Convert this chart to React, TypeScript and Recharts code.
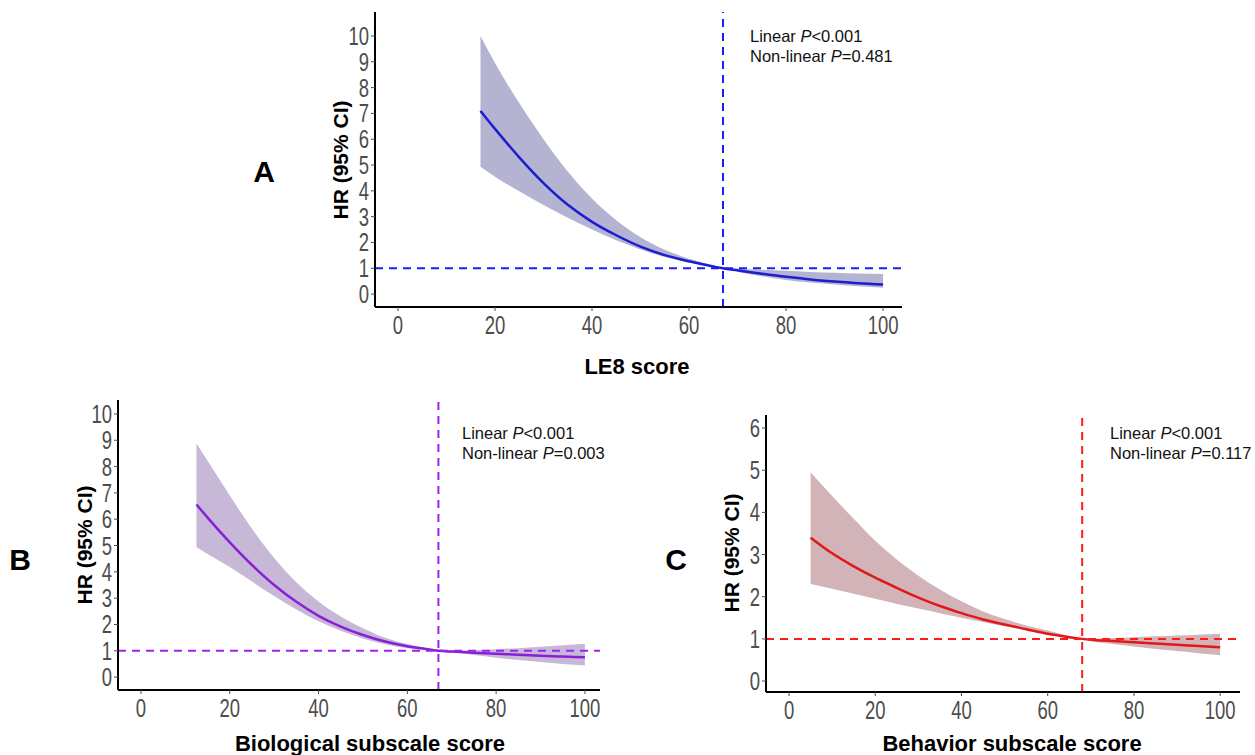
import React from "react";
import { ComposedChart, Area, Line, XAxis, YAxis, ReferenceLine } from "recharts";

// ---- Panel A: LE8 score ----
const aX = [17, 20, 25, 30, 35, 40, 45, 50, 55, 60, 65, 67, 70, 75, 80, 85, 90, 95, 100];
const aHR = [7.1, 6.4, 5.3, 4.3, 3.46, 2.8, 2.28, 1.84, 1.51, 1.27, 1.07, 1.0, 0.92, 0.79, 0.67, 0.57, 0.49, 0.42, 0.37];
const aLo = [4.93, 4.55, 3.98, 3.45, 2.96, 2.5, 2.09, 1.73, 1.44, 1.22, 1.06, 1.0, 0.87, 0.69, 0.55, 0.45, 0.37, 0.3, 0.25];
const aHi = [10.0, 8.95, 7.4, 6.0, 4.75, 3.7, 2.86, 2.2, 1.72, 1.37, 1.11, 1.0, 0.98, 0.94, 0.9, 0.86, 0.83, 0.8, 0.78];

// ---- Panel B: Biological subscale score ----
const bX = [12.5, 15, 20, 25, 30, 35, 40, 45, 50, 55, 60, 65, 67, 70, 75, 80, 85, 90, 95, 100];
const bHR = [6.56, 6.06, 5.12, 4.26, 3.5, 2.86, 2.33, 1.92, 1.6, 1.35, 1.17, 1.05, 1.0, 0.97, 0.93, 0.89, 0.85, 0.81, 0.78, 0.75];
const bLo = [4.93, 4.68, 4.18, 3.63, 3.08, 2.57, 2.12, 1.76, 1.47, 1.25, 1.1, 1.02, 1.0, 0.94, 0.84, 0.74, 0.65, 0.57, 0.5, 0.44];
const bHi = [8.88, 8.22, 6.9, 5.64, 4.53, 3.6, 2.87, 2.3, 1.86, 1.5, 1.26, 1.08, 1.0, 1.0, 1.02, 1.06, 1.1, 1.15, 1.21, 1.27];

// ---- Panel C: Behavior subscale score ----
const cX = [5, 10, 15, 20, 25, 30, 35, 40, 45, 50, 55, 60, 65, 68, 70, 75, 80, 85, 90, 95, 100];
const cHR = [3.4, 3.03, 2.72, 2.45, 2.21, 1.98, 1.78, 1.61, 1.46, 1.34, 1.23, 1.12, 1.04, 1.0, 0.98, 0.95, 0.92, 0.89, 0.86, 0.83, 0.8];
const cLo = [2.3, 2.19, 2.07, 1.95, 1.83, 1.72, 1.61, 1.5, 1.4, 1.3, 1.22, 1.13, 1.05, 1.0, 0.95, 0.88, 0.82, 0.76, 0.71, 0.66, 0.61];
const cHi = [4.95, 4.39, 3.85, 3.33, 2.88, 2.5, 2.17, 1.89, 1.65, 1.47, 1.32, 1.2, 1.07, 1.0, 1.0, 1.02, 1.04, 1.06, 1.08, 1.1, 1.12];

const xTicks = [0, 20, 40, 60, 80, 100];
const yTicksAB = [0, 1, 2, 3, 4, 5, 6, 7, 8, 9, 10];
const yTicksC = [0, 1, 2, 3, 4, 5, 6];
const refXA = 67;
const refXB = 67;
const refXC = 68;
const refY = 1;

const rows = (xs: number[], hr: number[], lo: number[], hi: number[]) =>
  xs.map((x, i) => ({ x, hr: hr[i], band: [lo[i], hi[i]] }));

const sans = "'Liberation Sans', Arial, sans-serif";

function NarrowTick(props: any) {
  const { x, y, payload, textAnchor, orientation } = props;
  const isX = orientation === "bottom";
  return (
    <text
      transform={`translate(${x},${y}) scale(0.74,1)`}
      x={0}
      y={0}
      dy={isX ? "0.74em" : "0.36em"}
      textAnchor={textAnchor}
      fontFamily={sans}
      fontSize={25}
      fill="#4d4d4d"
    >
      {payload.value}
    </text>
  );
}

type PanelProps = {
  left: number; top: number; width: number; height: number;
  margin: { top: number; right: number; bottom: number; left: number };
  data: any[];
  xDomain: [number, number];
  yDomain: [number, number];
  yTicks: number[];
  refX: number;
  band: string; line: string; dash: string;
};

function Panel(p: PanelProps) {
  return (
    <div style={{ position: "absolute", left: p.left, top: p.top }}>
      <ComposedChart width={p.width} height={p.height} data={p.data} margin={p.margin}>
        <XAxis
          dataKey="x" type="number" domain={p.xDomain} ticks={xTicks} allowDataOverflow
          axisLine={{ stroke: "#000", strokeWidth: 2 }} tickLine={{ stroke: "#4d4d4d" }}
          tickSize={4} tickMargin={4} tick={<NarrowTick />} height={40} interval={0}
        />
        <YAxis
          type="number" domain={p.yDomain} ticks={p.yTicks} allowDataOverflow
          axisLine={{ stroke: "#000", strokeWidth: 2 }} tickLine={{ stroke: "#4d4d4d" }}
          tickSize={4} tickMargin={2} tick={<NarrowTick />} width={45} interval={0}
        />
        <Area dataKey="band" type="monotone" fill={p.band} fillOpacity={1} stroke="none" isAnimationActive={false} />
        <Line dataKey="hr" type="monotone" stroke={p.line} strokeWidth={2.5} dot={false} isAnimationActive={false} />
        <ReferenceLine x={p.refX} stroke={p.dash} strokeWidth={2} strokeDasharray="8 6" />
        <ReferenceLine y={refY} stroke={p.dash} strokeWidth={2} strokeDasharray="8 6" />
      </ComposedChart>
    </div>
  );
}

function Txt(props: { x: number; y: number; size: number; rotate?: boolean; children: React.ReactNode }) {
  return (
    <div
      style={{
        position: "absolute", left: props.x, top: props.y,
        transform: `translate(-50%, -50%)${props.rotate ? " rotate(-90deg)" : ""}`,
        fontFamily: sans, fontSize: props.size, fontWeight: "bold",
        color: "#000", whiteSpace: "nowrap", lineHeight: 1,
      }}
    >
      {props.children}
    </div>
  );
}

function Note(props: { x: number; y: number; p: string }) {
  return (
    <div style={{ position: "absolute", left: props.x, top: props.y, fontFamily: sans, fontSize: 16.5, lineHeight: "19.5px", color: "#111", whiteSpace: "nowrap" }}>
      <div>Linear <i>P</i>&lt;0.001</div>
      <div>Non-linear <i>P</i>={props.p}</div>
    </div>
  );
}

export default function App() {
  return (
    <div style={{ position: "absolute", left: 0, top: 0, width: 1255, height: 755, overflow: "hidden", background: "#fff" }}>
      <Panel
        left={300} top={0} width={620} height={380}
        margin={{ top: 12, right: 18, bottom: 33, left: 30 }}
        data={rows(aX, aHR, aLo, aHi)}
        xDomain={[-4.74, 103.9]} yDomain={[-0.5, 10.93]} yTicks={yTicksAB} refX={refXA}
        band="#b4b4d2" line="#1c1cd0" dash="#1a1aff"
      />
      <Panel
        left={40} top={390} width={580} height={360}
        margin={{ top: 10, right: 20, bottom: 20, left: 33 }}
        data={rows(bX, bHR, bLo, bHi)}
        xDomain={[-5.18, 103.4]} yDomain={[-0.49, 10.53]} yTicks={yTicksAB} refX={refXB}
        band="#c8b8d8" line="#8a1fd8" dash="#a020f0"
      />
      <Panel
        left={690} top={400} width={565} height={355}
        margin={{ top: 15, right: 15, bottom: 23, left: 31 }}
        data={rows(cX, cHR, cLo, cHi)}
        xDomain={[-5.34, 104.6]} yDomain={[-0.26, 6.31]} yTicks={yTicksC} refX={refXC}
        band="#d2b4b8" line="#e01818" dash="#ff1a1a"
      />

      <Txt x={264} y={172} size={30}>A</Txt>
      <Txt x={20} y={560} size={30}>B</Txt>
      <Txt x={676} y={560} size={30}>C</Txt>

      <Txt x={340} y={160} size={21} rotate>HR (95% CI)</Txt>
      <Txt x={84} y={545} size={21} rotate>HR (95% CI)</Txt>
      <Txt x={731} y={553} size={21} rotate>HR (95% CI)</Txt>

      <Txt x={637} y={367} size={22}>LE8 score</Txt>
      <Txt x={370} y={744} size={22}>Biological subscale score</Txt>
      <Txt x={1012} y={744} size={22}>Behavior subscale score</Txt>

      <Note x={750} y={27} p="0.481" />
      <Note x={462} y={424} p="0.003" />
      <Note x={1110} y={424} p="0.117" />
    </div>
  );
}
